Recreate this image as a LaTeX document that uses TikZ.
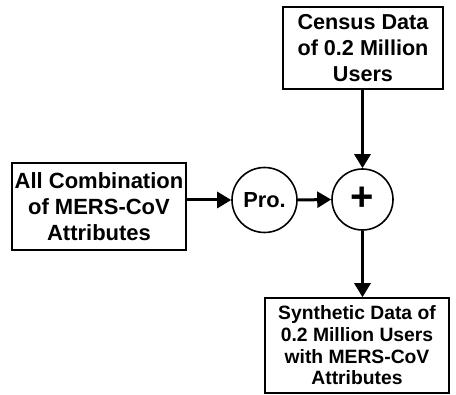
\documentclass[tikz,border=0pt]{standalone}
\usepackage{fontspec}
\setmainfont{Liberation Sans}
\usetikzlibrary{arrows.meta,calc}
\begin{document}
\begin{tikzpicture}[x=1pt,y=1pt,
  databox/.style={draw,line width=1.6pt,inner sep=0pt,align=center,font=\bfseries},
  opcircle/.style={draw,circle,line width=1.6pt,inner sep=0pt,font=\bfseries},
  flow/.style={line width=3pt,-{Triangle[length=14pt,width=16pt]}}]
\useasboundingbox (0,0) rectangle (456,-395);
% input boxes
\node[databox,minimum width=174pt,minimum height=87pt,
      font=\fontsize{22}{25.7}\selectfont\bfseries] (comb) at (99,-206.5)
  {All Combination\\of MERS-CoV\\Attributes};
\node[databox,minimum width=160pt,minimum height=82pt,
      font=\fontsize{21.6}{25.7}\selectfont\bfseries] (census) at (363,-48)
  {Census Data\\of 0.2 Million\\Users};
% operators
\node[opcircle,minimum size=65pt,font=\fontsize{21.8}{24}\selectfont\bfseries] (pro) at (264.5,-200) {Pro.};
\node[opcircle,minimum size=61pt,font=\fontsize{40}{40}\selectfont\bfseries] (plus) at (362.5,-199.5) {\raisebox{2pt}{+}};
% output box
\node[databox,minimum width=184pt,minimum height=95pt,
      font=\fontsize{19.3}{21.7}\selectfont\bfseries] (synth) at (357,-345.5)
  {Synthetic Data of\\0.2 Million Users\\with MERS-CoV\\Attributes};
% connectors
\draw[flow] (comb.east |- pro.west) -- (pro.west);
\draw[flow] (pro.east) -- (plus.west);
\draw[flow] (census.south -| plus.north) -- (plus.north);
\draw[flow] (plus.south) -- (plus.south |- synth.north);
\end{tikzpicture}
\end{document}
